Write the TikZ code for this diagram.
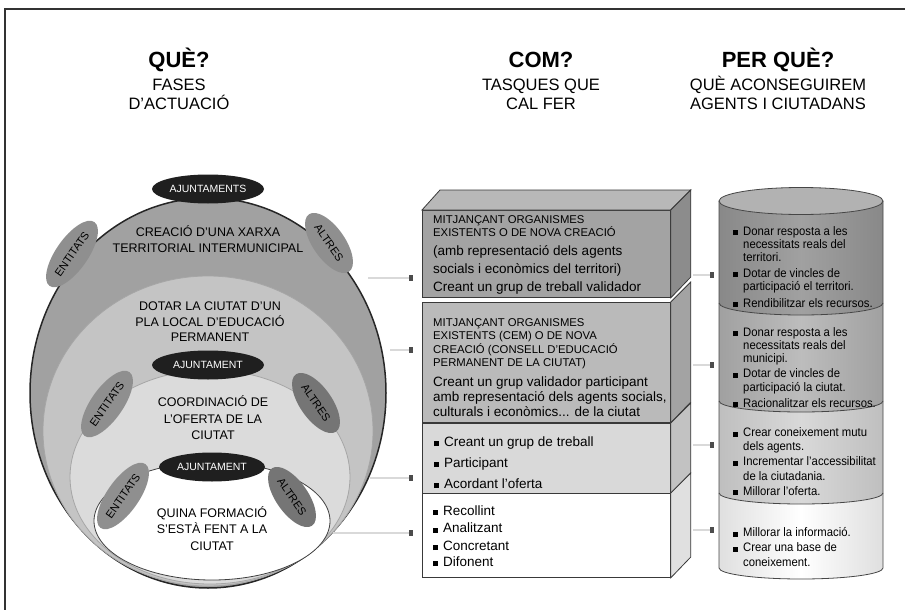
\documentclass[tikz,border=0pt]{standalone}
\usepackage{fontspec}
\setmainfont{Liberation Sans}
\newfontfamily\narrowfont[FakeStretch=0.92]{Liberation Sans}
\usetikzlibrary{shapes.geometric,arrows.meta,calc}
\definecolor{ringA}{gray}{0.63}
\definecolor{ringB}{gray}{0.77}
\definecolor{ringC}{gray}{0.86}
\definecolor{blobA}{gray}{0.56}
\definecolor{blobB}{gray}{0.46}
\definecolor{boxA}{gray}{0.64}
\definecolor{boxB}{gray}{0.73}
\definecolor{boxC}{gray}{0.85}
\definecolor{sideA}{gray}{0.55}
\definecolor{sideB}{gray}{0.64}
\definecolor{sideC}{gray}{0.76}
\definecolor{sideD}{gray}{0.88}
\definecolor{topA}{gray}{0.72}
\definecolor{cylA}{gray}{0.63}
\definecolor{cylB}{gray}{0.74}
\definecolor{cylC}{gray}{0.85}
\definecolor{cylTop}{gray}{0.70}
\newcommand{\mysq}{\rule{5pt}{5pt}\hspace{5pt}}
\begin{document}
\begin{tikzpicture}[x=1pt,y=-1pt,
  ring/.style={ellipse, inner sep=0pt, draw=gray!70, line width=0.8pt},
  blob/.style={ellipse, inner sep=0pt, minimum width=78pt, minimum height=32pt, font=\fontsize{11}{13}\selectfont},
  ajblob/.style={ellipse, inner sep=0pt, fill=black!88, text=white, minimum width=112pt, minimum height=29pt, font=\fontsize{10.5}{12}\selectfont},
  hb/.style={inner sep=0pt, anchor=base, font=\fontsize{22}{26}\selectfont\bfseries},
  hs/.style={inner sep=0pt, anchor=base, font=\fontsize{16.5}{20}\selectfont},
  rt/.style={inner sep=0pt, anchor=base, font=\fontsize{12.5}{15}\selectfont},
  capt/.style={inner sep=0pt, anchor=base west, font=\fontsize{11.3}{13}\selectfont},
  lowt/.style={inner sep=0pt, anchor=base west, font=\fontsize{13.5}{16}\selectfont},
  cylt/.style={inner sep=0pt, anchor=base west, font=\narrowfont\fontsize{12.3}{14}\selectfont},
  boxf/.style={inner sep=0pt, anchor=north west, draw=gray!45!black, line width=0.8pt, minimum width=248pt},
  cylline/.style={draw=gray!55!black, line width=0.8pt},
  conn/.style={draw=gray!30, line width=2.5pt, -{Square[length=4pt 0,width=6pt 0,color=gray!60!black]}}
]
\useasboundingbox (0,0) rectangle (905,610);
% frame
\draw[line width=1.2pt, black!80] (5,615) -- (5,9) -- (910,9);

% headings
\node[hb] (h1) at (179,68) {QUÈ?};
\node[hs] (h1a) at (179,91) {FASES};
\node[hs] (h1b) at (179,110) {D’ACTUACIÓ};
\node[hb] (h2) at (541,68) {COM?};
\node[hs] (h2a) at (541,91) {TASQUES QUE};
\node[hs] (h2b) at (541,110) {CAL FER};
\node[hb] (h3) at (778,68) {PER QUÈ?};
\node[hs] (h3a) at (778,91) {QUÈ ACONSEGUIREM};
\node[hs] (h3b) at (778,110) {AGENTS I CIUTADANS};

% nested ellipses
\node[ring, fill=ringA, draw=gray!30!black, line width=1.5pt, minimum width=356pt, minimum height=390pt] (R1) at (208,393) {};
\node[ring, fill=ringB, minimum width=330pt, minimum height=310pt] (R2) at (208,431) {};
\node[ring, fill=ringC, minimum width=280pt, minimum height=214pt] (R3) at (210,477) {};
\node[ring, fill=white, draw=gray!50!black, minimum width=236pt, minimum height=118pt] (R4) at (212,521) {};

% level 1 blobs
\node[ajblob] (A1) at (208,189) {AJUNTAMENTS};
\node[blob, fill=blobA, rotate=55] (E1) at (72,254) {ENTITATS};
\node[blob, fill=blobA, rotate=-55, minimum width=70pt] (T1) at (329,243) {ALTRES};
% level 2 blobs
\node[ajblob] (A2) at (208,365) {AJUNTAMENT};
\node[blob, fill=blobA, rotate=55] (E2) at (107,404) {ENTITATS};
\node[blob, fill=blobB, rotate=-55, minimum width=70pt] (T2) at (316,403) {ALTRES};
% level 3 blobs
\node[ajblob, minimum width=106pt] (A3) at (212,467) {AJUNTAMENT};
\node[blob, fill=blobA, rotate=55] (E3) at (123,496) {ENTITATS};
\node[blob, fill=blobB, rotate=-55, minimum width=70pt] (T3) at (292,497) {ALTRES};

% ring texts
\node[rt] (r1a) at (208,236) {CREACIÓ D’UNA XARXA};
\node[rt] (r1b) at (208,252.5) {TERRITORIAL INTERMUNICIPAL};
\node[rt] (r2a) at (210,310.5) {DOTAR LA CIUTAT D’UN};
\node[rt] (r2b) at (210,326.5) {PLA LOCAL D’EDUCACIÓ};
\node[rt] (r2c) at (210,341.5) {PERMANENT};
\node[rt] (r3a) at (213,406.5) {COORDINACIÓ DE};
\node[rt] (r3b) at (213,423) {L’OFERTA DE LA};
\node[rt] (r3c) at (213,439) {CIUTAT};
\node[rt] (r4a) at (212,517) {QUINA FORMACIÓ};
\node[rt] (r4b) at (212,533.5) {S’ESTÀ FENT A LA};
\node[rt] (r4c) at (212,550) {CIUTAT};

% middle boxes
\node[boxf, fill=boxA, minimum height=87pt] (b1) at (422,210) {};
\node[boxf, fill=boxB, minimum height=120pt] (b2) at (422,302) {};
\node[boxf, fill=boxC, minimum height=70pt] (b3) at (422,423) {};
\node[boxf, fill=white, minimum height=84pt] (b4) at (422,493) {};
\filldraw[fill=topA, draw=gray!45!black, line width=0.8pt] (b1.north west) -- ++(18,-20) -- ($(b1.north east)+(20,-20)$) -- (b1.north east) -- cycle;
\filldraw[fill=sideA, draw=gray!45!black, line width=0.8pt] (b1.north east) -- ++(20,-20) -- ++(0,87) -- (b1.south east) -- cycle;
\filldraw[fill=sideB, draw=gray!45!black, line width=0.8pt] (b2.north east) -- ++(20,-20) -- ++(0,120) -- (b2.south east) -- cycle;
\filldraw[fill=sideC, draw=gray!45!black, line width=0.8pt] (b3.north east) -- ++(20,-20) -- ++(0,70) -- (b3.south east) -- cycle;
\filldraw[fill=sideD, draw=gray!45!black, line width=0.8pt] (b4.north east) -- ++(20,-20) -- ++(0,84) -- (b4.south east) -- cycle;

% box texts
\node[capt] (m1a) at (433,223.5) {MITJANÇANT ORGANISMES};
\node[capt] (m1b) at (433,236.5) {EXISTENTS O DE NOVA CREACIÓ};
\node[lowt] (m1c) at (433,255) {(amb representació dels agents};
\node[lowt] (m1d) at (433,273) {socials i econòmics del territori)};
\node[lowt] (m1e) at (433,291.5) {Creant un grup de treball validador};
\node[capt] (m2a) at (433,326) {MITJANÇANT ORGANISMES};
\node[capt] (m2b) at (433,339.5) {EXISTENTS (CEM) O DE NOVA};
\node[capt] (m2c) at (433,353) {CREACIÓ (CONSELL D’EDUCACIÓ};
\node[capt] (m2d) at (433,366.5) {PERMANENT DE LA CIUTAT)};
\node[lowt] (m2e) at (433,386) {Creant un grup validador participant};
\node[lowt] (m2f) at (433,401) {amb representació dels agents socials,};
\node[lowt] (m2g) at (433,416) {culturals i econòmics... de la ciutat};
\node[lowt] (m3a) at (434,446) {\mysq Creant un grup de treball};
\node[lowt] (m3b) at (434,467) {\mysq Participant};
\node[lowt] (m3c) at (434,488) {\mysq Acordant l’oferta};
\node[lowt] (m4a) at (433,515) {\mysq Recollint};
\node[lowt] (m4b) at (433,532.5) {\mysq Analitzant};
\node[lowt] (m4c) at (433,550) {\mysq Concretant};
\node[lowt] (m4d) at (433,566) {\mysq Difonent};

% cylinders
\shade[left color=cylA!85!black, right color=cylA!85!black, middle color=cylA] (719,201) -- (719,303) arc[start angle=180, end angle=360, x radius=82pt, y radius=12pt] -- (883,201) -- cycle;
\shade[left color=cylB!85!black, right color=cylB!85!black, middle color=cylB] (719,303) arc[start angle=180, end angle=360, x radius=82pt, y radius=12pt] -- (883,401) arc[start angle=0, end angle=-180, x radius=82pt, y radius=11pt] -- cycle;
\shade[left color=cylC!88!black, right color=cylC!88!black, middle color=cylC] (719,401) arc[start angle=180, end angle=360, x radius=82pt, y radius=11pt] -- (883,493) arc[start angle=0, end angle=-180, x radius=82pt, y radius=11pt] -- cycle;
\shade[left color=gray!25, right color=gray!25, middle color=white] (719,493) arc[start angle=180, end angle=360, x radius=82pt, y radius=11pt] -- (883,568) arc[start angle=0, end angle=-180, x radius=82pt, y radius=11pt] -- cycle;
\draw[cylline] (719,201) -- (719,568) arc[start angle=180, end angle=360, x radius=82pt, y radius=11pt] -- (883,201);
\draw[cylline] (719,303) arc[start angle=180, end angle=360, x radius=82pt, y radius=12pt];
\draw[cylline] (719,401) arc[start angle=180, end angle=360, x radius=82pt, y radius=11pt];
\draw[cylline] (719,493) arc[start angle=180, end angle=360, x radius=82pt, y radius=11pt];
\draw[cylline, fill=cylTop] (801,201) ellipse[x radius=82pt, y radius=13.5pt];
\coordinate (cylW) at (719,400);

% cylinder texts
\node[cylt] (c1a) at (733,235) {\mysq Donar resposta a les};
\node[cylt] (c1b) at (743,248) {necessitats reals del};
\node[cylt] (c1c) at (743,261) {territori.};
\node[cylt] (c1d) at (733,277) {\mysq Dotar de vincles de};
\node[cylt] (c1e) at (743,290.5) {participació el territori.};
\node[cylt] (c1f) at (733,307) {\mysq Rendibilitzar els recursos.};
\node[cylt] (c2a) at (733,336) {\mysq Donar resposta a les};
\node[cylt] (c2b) at (743,349.5) {necessitats reals del};
\node[cylt] (c2c) at (743,362.5) {municipi.};
\node[cylt] (c2d) at (733,377.5) {\mysq Dotar de vincles de};
\node[cylt] (c2e) at (743,391) {participació la ciutat.};
\node[cylt] (c2f) at (733,407) {\mysq Racionalitzar els recursos.};
\node[cylt] (c3a) at (733,436.5) {\mysq Crear coneixement mutu};
\node[cylt] (c3b) at (743,450) {dels agents.};
\node[cylt] (c3c) at (733,465.5) {\mysq Incrementar l’accessibilitat};
\node[cylt] (c3d) at (743,480) {de la ciutadania.};
\node[cylt] (c3e) at (733,495) {\mysq Millorar l’oferta.};
\node[cylt] (c4a) at (733,536.5) {\mysq Millorar la informació.};
\node[cylt] (c4b) at (733,551.5) {\mysq Crear una base de};
\node[cylt] (c4c) at (743,566.5) {coneixement.};

% connectors left
\coordinate (l1) at (368,278);
\coordinate (l2) at (390,350);
\coordinate (l3) at (370,478);
\coordinate (l4) at (333,533);
\draw[conn, shorten >=9pt] (l1) -- (b1.west |- l1);
\draw[conn, shorten >=9pt] (l2) -- (b2.west |- l2);
\draw[conn, shorten >=9pt] (l3) -- (b3.west |- l3);
\draw[conn, shorten >=9pt] (l4) -- (b4.west |- l4);
% connectors right
\coordinate (q1) at (693,275);
\coordinate (q2) at (693,365);
\coordinate (q3) at (693,445);
\coordinate (q4) at (693,530);
\draw[conn, shorten >=5pt] (q1) -- (cylW |- q1);
\draw[conn, shorten >=5pt] (q2) -- (cylW |- q2);
\draw[conn, shorten >=5pt] (q3) -- (cylW |- q3);
\draw[conn, shorten >=5pt] (q4) -- (cylW |- q4);
\end{tikzpicture}
\end{document}
